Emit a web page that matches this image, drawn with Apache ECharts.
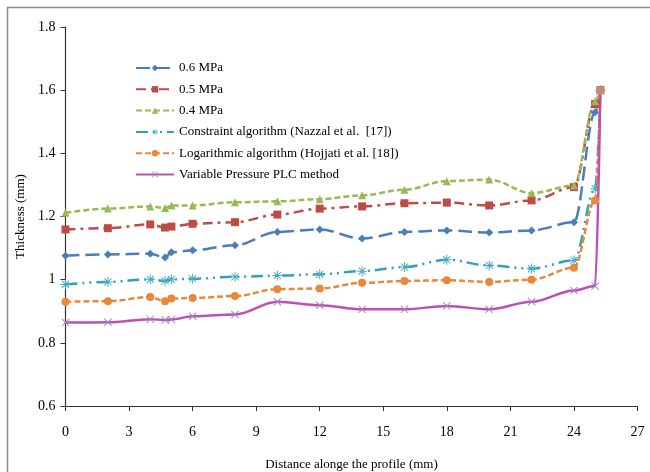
<!DOCTYPE html>
<html>
<head>
<meta charset="utf-8">
<script src="https://cdn.jsdelivr.net/npm/echarts@6/dist/echarts.min.js"></script>
<style>html,body{margin:0;padding:0;background:#fff}#c{width:650px;height:472px}</style>
</head>
<body>
<div id="c"></div>
<script>
var xs = [0, 2, 4, 4.7, 5, 6, 8, 10, 12, 14, 16, 18, 20, 22, 24, 25, 25.25];
var p06 = [1.076, 1.080, 1.082, 1.070, 1.087, 1.093, 1.109, 1.151, 1.159, 1.130, 1.151, 1.156, 1.149, 1.156, 1.182, 1.53, 1.60];
var p05 = [1.159, 1.163, 1.175, 1.165, 1.168, 1.177, 1.182, 1.206, 1.225, 1.232, 1.242, 1.244, 1.235, 1.251, 1.293, 1.556, 1.60];
var p04 = [1.212, 1.225, 1.232, 1.227, 1.235, 1.235, 1.245, 1.248, 1.255, 1.267, 1.285, 1.312, 1.317, 1.274, 1.298, 1.565, 1.60];
var constraintAlg = [0.985, 0.993, 1.001, 0.996, 1.001, 1.003, 1.009, 1.013, 1.017, 1.027, 1.040, 1.063, 1.045, 1.035, 1.061, 1.288, 1.60];
var logAlg = [0.930, 0.932, 0.945, 0.932, 0.940, 0.942, 0.948, 0.970, 0.972, 0.990, 0.996, 0.998, 0.993, 1.000, 1.038, 1.251, 1.60];
var plc = [0.864, 0.865, 0.875, 0.872, 0.874, 0.884, 0.890, 0.930, 0.919, 0.906, 0.906, 0.917, 0.906, 0.930, 0.966, 0.980, 1.60];
var names = ['0.6 MPa', '0.5 MPa', '0.4 MPa', 'Constraint algorithm (Nazzal et al.  [17])', 'Logarithmic algorithm (Hojjati et al. [18])', 'Variable Pressure PLC method'];

function pairs(arr) { return xs.map(function (x, i) { return [x, arr[i]]; }); }

var asterisk = 'path://M0 9H20V11H0Z M9 0H11V20H9Z M2.2 3.6L3.6 2.2L17.8 16.4L16.4 17.8Z M16.4 2.2L17.8 3.6L3.6 17.8L2.2 16.4Z';
var cross = 'path://M2.2 3.6L3.6 2.2L17.8 16.4L16.4 17.8Z M16.4 2.2L17.8 3.6L3.6 17.8L2.2 16.4Z';
var font = 'Liberation Serif';

function mk(name, data, color, dash, symbol, size, symColor) {
  return {
    name: name, type: 'line', data: pairs(data), smooth: 0.35, smoothMonotone: 'x',
    symbol: symbol, symbolSize: size, showSymbol: true,
    lineStyle: { color: color, width: 2.5, type: dash },
    itemStyle: { color: symColor || color },
    emphasis: { disabled: true }
  };
}

var chart = echarts.init(document.getElementById('c'), null, { renderer: 'canvas' });
chart.setOption({
  animation: false,
  backgroundColor: '#fff',
  graphic: [{ type: 'rect', shape: { x: 7.5, y: 7.5, width: 700, height: 500 }, style: { fill: 'none', stroke: '#8c8c8c', lineWidth: 1.5 }, silent: true }],
  grid: { left: 65.5, right: 12.5, top: 27, bottom: 66, containLabel: false, outerBoundsMode: 'none' },
  legend: {
    orient: 'vertical', left: 130, top: 56, itemWidth: 38, itemHeight: 8, itemGap: 7.3,
    textStyle: { fontFamily: font, fontSize: 13, lineHeight: 14, color: '#000' },
    data: names
  },
  xAxis: {
    type: 'value', min: 0, max: 27, interval: 3,
    name: 'Distance alonge the profile (mm)', nameLocation: 'middle', nameGap: 52,
    nameTextStyle: { fontFamily: font, fontSize: 13, color: '#000' },
    axisLine: { lineStyle: { color: '#333', width: 1.2 } },
    axisTick: { show: true, length: 5, lineStyle: { color: '#333' } },
    axisLabel: { fontFamily: font, fontSize: 14, color: '#000', margin: 19 },
    splitLine: { show: false }
  },
  yAxis: {
    type: 'value', min: 0.6, max: 1.8, interval: 0.2,
    name: 'Thickness (mm)', nameLocation: 'middle', nameGap: 37, nameRotate: 90,
    nameTextStyle: { fontFamily: font, fontSize: 13, color: '#000' },
    axisLine: { show: true, lineStyle: { color: '#333', width: 1.2 } },
    axisTick: { show: true, length: 5, lineStyle: { color: '#333' } },
    axisLabel: { fontFamily: font, fontSize: 14, color: '#000', margin: 10,
      formatter: function (v) { return String(Math.round(v * 10) / 10); } },
    splitLine: { show: false }
  },
  series: [
    mk(names[0], p06, '#4A7EBB', [14, 6], 'diamond', 8),
    mk(names[1], p05, '#BE4B48', [10, 5, 3, 5], 'rect', 8),
    mk(names[2], p04, '#98B954', [6, 3], 'triangle', 8),
    mk(names[3], constraintAlg, '#31A0BA', [12, 5, 2, 5, 2, 5], asterisk, 10, '#4BACC6'),
    mk(names[4], logAlg, '#E8883A', [6, 3], 'circle', 8),
    mk(names[5], plc, '#C04FB4', 'solid', cross, 8, '#9B8BC8')
  ]
});
</script>
</body>
</html>
